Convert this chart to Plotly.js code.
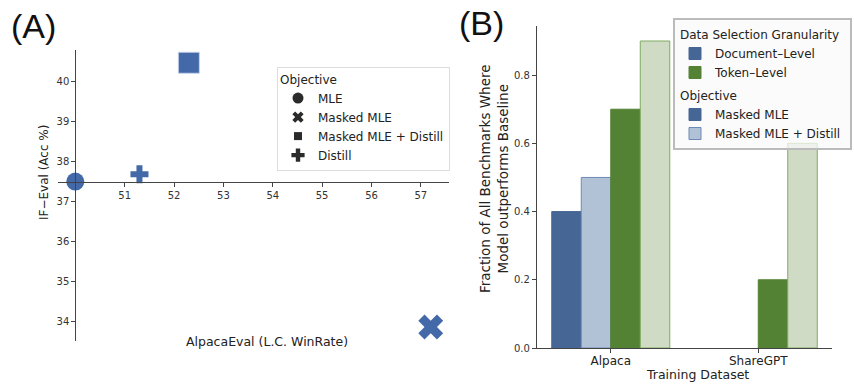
<!DOCTYPE html>
<html>
<head>
<meta charset="utf-8">
<script src="https://cdn.plot.ly/plotly-3.0.1.min.js"></script>
<style>
  html, body { margin: 0; padding: 0; background: #fff; }
  #chart { width: 854px; height: 384px; }
</style>
</head>
<body>
<div id="chart"></div>
<script>
// ---------- Panel A data ----------
const objectives = ["MLE", "Masked MLE", "Masked MLE + Distill", "Distill"];
const alpacaEval = [50.0, 57.2, 52.3, 51.3];
const ifEval = [37.5, 33.85, 40.48, 37.68];
const objSymbols = ["circle", "x", "square", "cross"];
const objSizes = [18, 22, 21, 15];

// ---------- Panel B data ----------
const datasets = ["Alpaca", "ShareGPT"];
const docMaskedMLE = [0.4, null];
const docDistill = [0.5, null];
const tokenMaskedMLE = [0.7, 0.2];
const tokenDistill = [0.9, 0.6];

const W = 854, H = 384;
const FONT = "DejaVu Sans, sans-serif";
const blue = "#4369a8";

// Panel A geometry (pixels)
const axA = { x0: 58, x1: 449, y0: 50, y1: 341 };
const xRangeA = [49.65, 57.57];
const yRangeA = [33.5, 40.8];
const crossX = 50, crossY = 37.5;

const xDomA = [axA.x0 / W, axA.x1 / W];
const yDomA = [1 - axA.y1 / H, 1 - axA.y0 / H];
const xPosFree = yDomA[0] + (crossY - yRangeA[0]) / (yRangeA[1] - yRangeA[0]) * (yDomA[1] - yDomA[0]);
const yPosFree = xDomA[0] + (crossX - xRangeA[0]) / (xRangeA[1] - xRangeA[0]) * (xDomA[1] - xDomA[0]);

// Panel B geometry
const axB = { x0: 537, x1: 832, y0: 26, y1: 348 };

const traces = [];

// Panel A markers
objectives.forEach((o, i) => {
  traces.push({
    type: "scatter", mode: "markers",
    x: [alpacaEval[i]], y: [ifEval[i]],
    xaxis: "x", yaxis: "y",
    marker: { symbol: objSymbols[i], size: objSizes[i], color: blue,
              line: { width: i === 2 ? 1 : 0, color: "rgba(200,212,235,0.9)" } },
    showlegend: false, cliponaxis: false, hoverinfo: "skip"
  });
});
// Panel A legend entries (black markers)
objectives.forEach((o, i) => {
  traces.push({
    type: "scatter", mode: "markers",
    x: [null], y: [null], xaxis: "x", yaxis: "y",
    name: o, legend: "legend2",
    marker: { symbol: objSymbols[i], size: [11, 10, 8, 11][i], color: "#2b2b2b" },
    showlegend: true
  });
});

// Panel B bars
const barSpecs = [
  { y: docMaskedMLE, fill: "#466695", edge: "#466695" },
  { y: docDistill, fill: "#b1c1d6", edge: "#6d8ab6" },
  { y: tokenMaskedMLE, fill: "#548235", edge: "#548235" },
  { y: tokenDistill, fill: "#cfdbc5", edge: "#7faa5e" }
];
barSpecs.forEach((b, i) => {
  traces.push({
    type: "bar", x: datasets, y: b.y, xaxis: "x2", yaxis: "y2",
    marker: { color: b.fill, line: { color: b.edge, width: 1 } },
    showlegend: false, hoverinfo: "skip"
  });
});

// Panel B legend entries
const legB = [
  { name: "Document\u2013Level", group: "g1", gt: "Data Selection Granularity", fill: "#466695", edge: "#466695" },
  { name: "Token\u2013Level", group: "g1", gt: "Data Selection Granularity", fill: "#548235", edge: "#548235" },
  { name: "Masked MLE", group: "g2", gt: "Objective", fill: "#466695", edge: "#466695" },
  { name: "Masked MLE + Distill", group: "g2", gt: "Objective", fill: "#b1c1d6", edge: "#6d8ab6" }
];
legB.forEach(l => {
  traces.push({
    type: "bar", x: [null], y: [null], xaxis: "x", yaxis: "y",
    name: l.name, legend: "legend", legendgroup: l.group,
    legendgrouptitle: { text: l.gt, font: { family: FONT, size: 12, color: "#222" } },
    marker: { color: l.fill, line: { color: l.edge, width: 1 } },
    showlegend: true
  });
});

const tickFont = { family: FONT, size: 10, color: "#333" };
const titleFont = { family: FONT, size: 12.5, color: "#222" };

const layout = {
  width: W, height: H,
  margin: { l: 0, r: 0, t: 0, b: 0 },
  paper_bgcolor: "#fff", plot_bgcolor: "rgba(0,0,0,0)",
  barmode: "group", bargap: 0.2, bargroupgap: 0,
  font: { family: FONT, size: 11, color: "#222" },
  xaxis: {
    domain: xDomA, range: xRangeA, anchor: "free", position: xPosFree,
    tickvals: [51, 52, 53, 54, 55, 56, 57],
    showline: true, linecolor: "#444", linewidth: 1.2,
    ticks: "outside", ticklen: 4, tickcolor: "#444",
    showgrid: false, zeroline: false, tickfont: tickFont
  },
  yaxis: {
    domain: yDomA, range: yRangeA, anchor: "free", position: yPosFree,
    tickvals: [34, 35, 36, 37, 38, 39, 40],
    showline: true, linecolor: "#444", linewidth: 1.2,
    ticks: "outside", ticklen: 4, tickcolor: "#444",
    showgrid: false, zeroline: false, tickfont: tickFont
  },
  xaxis2: {
    domain: [axB.x0 / W, axB.x1 / W], range: [-0.5, 1.5], anchor: "y2",
    type: "category",
    showline: true, linecolor: "#444", linewidth: 1.2,
    ticks: "outside", ticklen: 4, tickcolor: "#444", ticklabelstandoff: -3,
    showgrid: false, zeroline: false, tickfont: { family: FONT, size: 12, color: "#222" }
  },
  yaxis2: {
    domain: [1 - axB.y1 / H, 1 - axB.y0 / H], range: [0, 0.944], anchor: "x2",
    tickvals: [0, 0.2, 0.4, 0.6, 0.8], tickformat: ".1f",
    showline: true, linecolor: "#444", linewidth: 1.2,
    ticks: "outside", ticklen: 4, tickcolor: "#444",
    showgrid: false, zeroline: false, tickfont: tickFont
  },
  legend: {
    x: 673 / W, y: 1 - 18 / H, xanchor: "left", yanchor: "top",
    bgcolor: "rgba(250,250,250,0.75)", bordercolor: "#bbbbbb", borderwidth: 2,
    font: { family: FONT, size: 12, color: "#222" },
    traceorder: "grouped", tracegroupgap: 4, itemwidth: 30
  },
  legend2: {
    x: 277 / W, y: 1 - 67 / H, xanchor: "left", yanchor: "top",
    bgcolor: "rgba(255,255,255,0.9)", bordercolor: "#dddddd", borderwidth: 1,
    title: { text: "Objective", font: { family: FONT, size: 12, color: "#222" } },
    font: { family: FONT, size: 12, color: "#222" },
    itemwidth: 30
  },
  annotations: [
    { text: "(A)", x: 33 / W, y: 1 - 26 / H, xref: "paper", yref: "paper",
      xanchor: "center", yanchor: "middle", showarrow: false,
      font: { family: "Liberation Sans, Arial, sans-serif", size: 34, color: "#111" } },
    { text: "(B)", x: 482 / W, y: 1 - 23 / H, xref: "paper", yref: "paper",
      xanchor: "center", yanchor: "middle", showarrow: false,
      font: { family: "Liberation Sans, Arial, sans-serif", size: 34, color: "#111" } },
    { text: "IF\u2212Eval (Acc %)", x: 44 / W, y: 1 - 173 / H, xref: "paper", yref: "paper",
      xanchor: "center", yanchor: "middle", textangle: -90, showarrow: false,
      font: { family: FONT, size: 12, color: "#222" } },
    { text: "AlpacaEval (L.C. WinRate)", x: 267 / W, y: 1 - 341 / H, xref: "paper", yref: "paper",
      xanchor: "center", yanchor: "middle", showarrow: false, font: titleFont },
    { text: "Fraction of All Benchmarks Where<br>Model outperforms Baseline", x: 494 / W, y: 1 - 179 / H,
      xref: "paper", yref: "paper", xanchor: "center", yanchor: "middle", textangle: -90,
      showarrow: false, font: { family: FONT, size: 13.5, color: "#222" } },
    { text: "Training Dataset", x: 697 / W, y: 1 - 374 / H, xref: "paper", yref: "paper",
      xanchor: "center", yanchor: "middle", showarrow: false, font: titleFont }
  ]
};

Plotly.newPlot("chart", traces, layout, { staticPlot: true, displayModeBar: false });
</script>
</body>
</html>
